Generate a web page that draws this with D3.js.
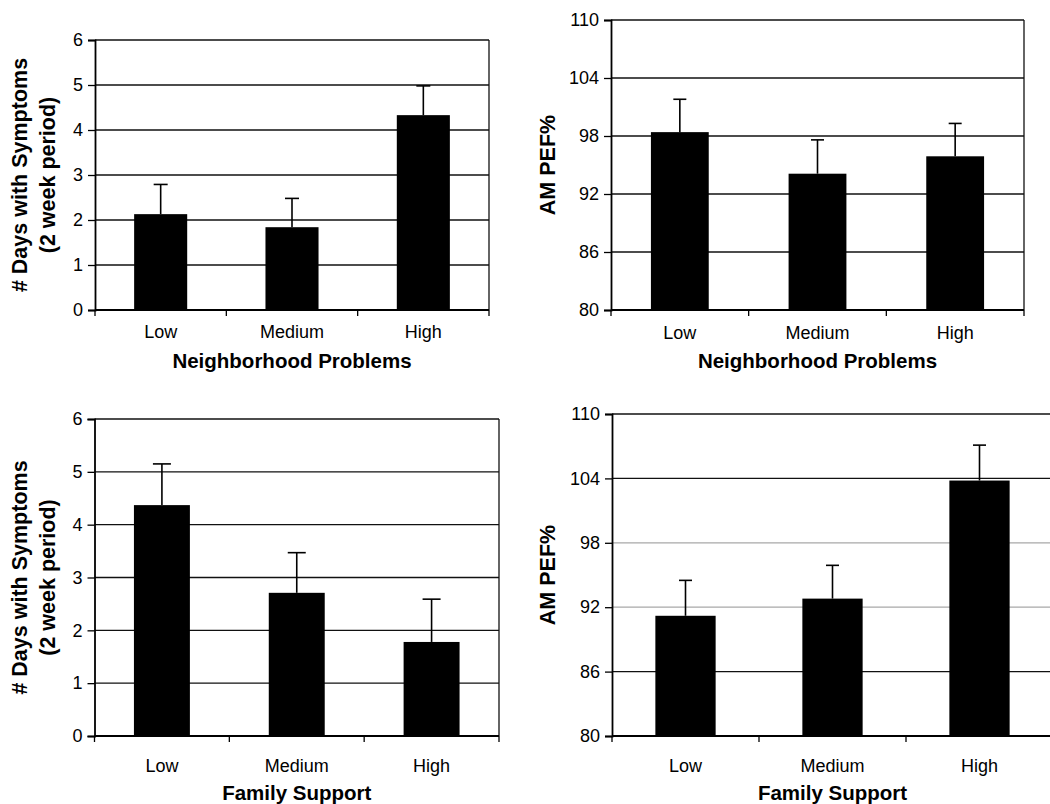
<!DOCTYPE html>
<html>
<head>
<meta charset="utf-8">
<script src="https://cdn.jsdelivr.net/npm/d3@7"></script>
<style>
  html, body { margin: 0; padding: 0; background: #fff; }
  svg { display: block; }
  text { font-family: "Liberation Sans", Arial, sans-serif; fill: #000; }
</style>
</head>
<body>
<svg id="chart" width="1050" height="804"></svg>
<script>
// ---- Data ----
const categories = ["Low", "Medium", "High"];

const neighborhoodSymptoms = [2.13, 1.84, 4.33];
const neighborhoodSymptomsErr = [0.66, 0.64, 0.65];
const neighborhoodPEF = [98.4, 94.1, 95.9];
const neighborhoodPEFErr = [3.4, 3.5, 3.4];

const familySymptoms = [4.37, 2.71, 1.78];
const familySymptomsErr = [0.78, 0.76, 0.81];
const familyPEF = [91.2, 92.8, 103.8];
const familyPEFErr = [3.3, 3.1, 3.3];

const symptomTicks = [0, 1, 2, 3, 4, 5, 6];
const pefTicks = [80, 86, 92, 98, 104, 110];

const symptomTitle = ["# Days with Symptoms", "(2 week period)"];
const pefTitle = ["AM PEF%"];
const neighborhoodTitle = "Neighborhood Problems";
const familyTitle = "Family Support";

// ---- Layout ----
const panels = [
  { values: neighborhoodSymptoms, errs: neighborhoodSymptomsErr, ticks: symptomTicks,
    yTitle: symptomTitle, xTitle: neighborhoodTitle,
    left: 95, right: 489, top: 40, bottom: 310, barFrac: 0.404, cap: 14,
    yTitleX: [20, 48], catBase: 338, titleBase: 368, gridGrey: [] },
  { values: neighborhoodPEF, errs: neighborhoodPEFErr, ticks: pefTicks,
    yTitle: pefTitle, xTitle: neighborhoodTitle,
    left: 611, right: 1024, top: 20, bottom: 310, barFrac: 0.42, cap: 13,
    yTitleX: [548], catBase: 339, titleBase: 368, gridGrey: [] },
  { values: familySymptoms, errs: familySymptomsErr, ticks: symptomTicks,
    yTitle: symptomTitle, xTitle: familyTitle,
    left: 94.5, right: 499, top: 419, bottom: 736, barFrac: 0.415, cap: 18,
    yTitleX: [20, 48], catBase: 772, titleBase: 800, gridGrey: [] },
  { values: familyPEF, errs: familyPEFErr, ticks: pefTicks,
    yTitle: pefTitle, xTitle: familyTitle,
    left: 612, right: 1053, top: 414, bottom: 736, barFrac: 0.41, cap: 13,
    yTitleX: [548], catBase: 772, titleBase: 800, gridGrey: [98, 92] }
];

const svg = d3.select("#chart");

panels.forEach(p => {
  const g = svg.append("g");
  const x = d3.scaleBand().domain(categories).range([p.left, p.right]).padding(0);
  const y = d3.scaleLinear()
    .domain([p.ticks[0], p.ticks[p.ticks.length - 1]])
    .range([p.bottom, p.top]);

  // gridlines (incl. top)
  g.selectAll("line.grid").data(p.ticks.slice(1)).join("line")
    .attr("x1", p.left).attr("x2", p.right)
    .attr("y1", d => y(d)).attr("y2", d => y(d))
    .attr("stroke", d => p.gridGrey.includes(d) ? "#a8a8a8" : "#111")
    .attr("stroke-width", 1.3);

  // right border
  g.append("line")
    .attr("x1", p.right).attr("x2", p.right)
    .attr("y1", p.top).attr("y2", p.bottom)
    .attr("stroke", "#111").attr("stroke-width", 1.3);

  // bars
  const bw = x.bandwidth() * p.barFrac;
  const data = categories.map((c, i) => ({ c, v: p.values[i], e: p.errs[i] }));
  g.selectAll("rect.bar").data(data).join("rect")
    .attr("x", d => x(d.c) + x.bandwidth() / 2 - bw / 2)
    .attr("width", bw)
    .attr("y", d => y(d.v))
    .attr("height", d => y(p.ticks[0]) - y(d.v))
    .attr("fill", "#000");

  // error bars (upper)
  g.selectAll("line.err").data(data).join("line")
    .attr("x1", d => x(d.c) + x.bandwidth() / 2)
    .attr("x2", d => x(d.c) + x.bandwidth() / 2)
    .attr("y1", d => y(d.v))
    .attr("y2", d => y(d.v + d.e))
    .attr("stroke", "#000").attr("stroke-width", 1.6);
  g.selectAll("line.cap").data(data).join("line")
    .attr("x1", d => x(d.c) + x.bandwidth() / 2 - p.cap / 2)
    .attr("x2", d => x(d.c) + x.bandwidth() / 2 + p.cap / 2)
    .attr("y1", d => y(d.v + d.e))
    .attr("y2", d => y(d.v + d.e))
    .attr("stroke", "#000").attr("stroke-width", 1.6);

  // y axis
  const yAxis = d3.axisLeft(y).tickValues(p.ticks).tickSize(7).tickPadding(5)
    .tickFormat(d3.format("d"));
  const ya = g.append("g").attr("transform", `translate(${p.left},0)`).call(yAxis);
  ya.select(".domain").attr("stroke", "#000").attr("stroke-width", 1.8);
  ya.selectAll(".tick line").attr("stroke", "#000").attr("stroke-width", 1.3);
  ya.selectAll(".tick text")
    .attr("font-size", 18).attr("fill", "#000")
    .attr("font-family", "Liberation Sans, Arial, sans-serif");

  // x axis (labels at centers, ticks at boundaries)
  const xAxis = d3.axisBottom(x).tickSize(0).tickPadding(0);
  const xa = g.append("g").attr("transform", `translate(0,${p.bottom})`).call(xAxis);
  xa.select(".domain").remove();
  xa.selectAll(".tick text")
    .attr("font-size", 18).attr("fill", "#000")
    .attr("font-family", "Liberation Sans, Arial, sans-serif")
    .attr("dy", null)
    .attr("y", p.catBase - p.bottom);

  g.append("line")
    .attr("x1", p.left).attr("x2", p.right)
    .attr("y1", p.bottom).attr("y2", p.bottom)
    .attr("stroke", "#000").attr("stroke-width", 1.8);
  const bounds = categories.map(c => x(c)).concat([x(categories[categories.length - 1]) + x.bandwidth()]);
  g.selectAll("line.xtick").data(bounds).join("line")
    .attr("x1", d => d).attr("x2", d => d)
    .attr("y1", p.bottom).attr("y2", p.bottom + 6)
    .attr("stroke", "#000").attr("stroke-width", 1.3);

  // x title
  g.append("text")
    .attr("x", (p.left + Math.min(p.right, 1050 + 3)) / 2)
    .attr("y", p.titleBase)
    .attr("text-anchor", "middle")
    .attr("font-size", 20.5).attr("font-weight", "bold")
    .text(p.xTitle);

  // y title
  const cy = (p.top + p.bottom) / 2;
  p.yTitle.forEach((t, i) => {
    g.append("text")
      .attr("transform", `translate(${p.yTitleX[i]},${cy}) rotate(-90)`)
      .attr("text-anchor", "middle")
      .attr("dominant-baseline", "central")
      .attr("font-size", 21.5).attr("font-weight", "bold")
      .text(t);
  });
});
</script>
</body>
</html>
